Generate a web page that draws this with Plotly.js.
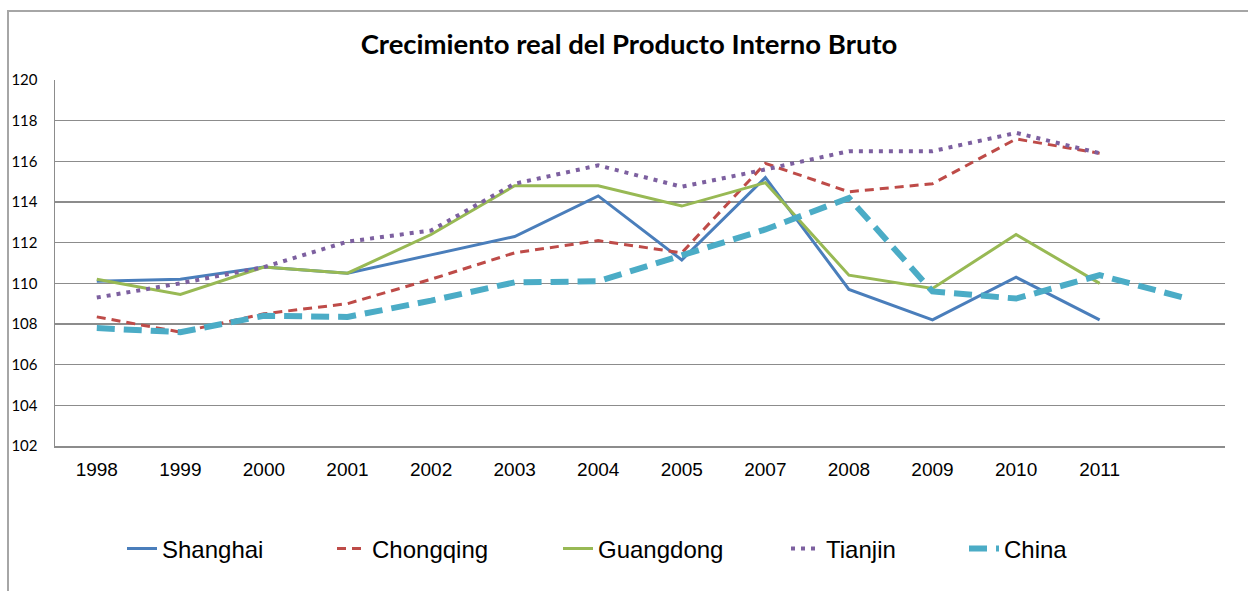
<!DOCTYPE html>
<html>
<head>
<meta charset="utf-8">
<script src="https://cdn.plot.ly/plotly-3.0.1.min.js"></script>
<style>
  html, body { margin: 0; padding: 0; background: #fff; }
  #wrap { position: relative; width: 1248px; height: 591px; }
  #chart { position: absolute; left: 0; top: 0; width: 1248px; height: 591px; }
  #frame { position: absolute; left: 7px; top: 10px; width: 1260px; height: 600px;
           border-left: 2px solid #a6a6a6; border-top: 2px solid #a6a6a6; pointer-events: none; }
</style>
</head>
<body>
<div id="wrap">
  <div id="chart"></div>
  <div id="frame"></div>
</div>
<script>
// Categories (last category is unlabeled in the source chart)
const categories = ['1998','1999','2000','2001','2002','2003','2004','2005','2007','2008','2009','2010','2011',''];

const shanghai  = [110.1, 110.2, 110.8, 110.5, 111.4, 112.3, 114.3, 111.15, 115.2, 109.7, 108.2, 110.3, 108.2, null];
const chongqing = [108.35, 107.6, 108.5, 109.0, 110.2, 111.5, 112.1, 111.5, 115.9, 114.5, 114.9, 117.1, 116.4, null];
const guangdong = [110.2, 109.45, 110.8, 110.5, 112.4, 114.8, 114.8, 113.8, 114.95, 110.4, 109.75, 112.4, 110.0, null];
const tianjin   = [109.3, 110.0, 110.8, 112.05, 112.6, 114.9, 115.8, 114.75, 115.6, 116.5, 116.5, 117.4, 116.4, null];
const china     = [107.8, 107.6, 108.4, 108.35, 109.15, 110.05, 110.1, 111.4, 112.65, 114.2, 109.6, 109.25, 110.4, 109.3];

const yTicks = [102, 104, 106, 108, 110, 112, 114, 116, 118, 120];

const idx = categories.map((c, i) => i);
const W = 1248, H = 591;

function tr(name, data, color, width, dash, legendId) {
  return {
    type: 'scatter', mode: 'lines', name: name,
    x: idx, y: data,
    line: { color: color, width: width, dash: dash },
    connectgaps: false,
    legend: legendId
  };
}

const traces = [
  tr('Shanghai',  shanghai,  '#4A7EBB', 3, 'solid',      'legend'),
  tr('Chongqing', chongqing, '#BE4B48', 3, '9px,6px',    'legend2'),
  tr('Guangdong', guangdong, '#98B954', 3, 'solid',      'legend3'),
  tr('Tianjin',   tianjin,   '#7D60A0', 4, '4px,6px',    'legend4'),
  tr('China',     china,     '#4BACC6', 6, '18px,9px',   'legend5')
];

const legFont = { family: 'Liberation Sans, Arial, sans-serif', size: 24, color: '#000' };
function leg(px) {
  return {
    xref: 'container', yref: 'container',
    x: px / W, y: 1 - 549 / H, xanchor: 'left', yanchor: 'middle',
    orientation: 'h', font: legFont, bgcolor: 'rgba(0,0,0,0)', borderwidth: 0
  };
}

const layout = {
  width: W, height: H,
  paper_bgcolor: '#fff', plot_bgcolor: '#fff',
  margin: { l: 55, r: 23, t: 80, b: 145 },
  title: {
    text: '<b>Crecimiento real del Producto Interno Bruto</b>',
    font: { family: 'Lato, sans-serif', size: 27.5, color: '#000' },
    xref: 'container', yref: 'container',
    x: 629 / W, y: 1 - 44 / H, xanchor: 'center', yanchor: 'middle'
  },
  xaxis: {
    range: [-0.5, categories.length - 0.5],
    tickmode: 'array', tickvals: idx, ticktext: categories,
    showgrid: false, zeroline: false,
    showline: true, linecolor: '#8c8c8c', linewidth: 1.5,
    ticks: '', ticklabelstandoff: 6,
    tickfont: { family: 'Liberation Sans, Arial, sans-serif', size: 19, color: '#000' }
  },
  yaxis: {
    range: [102, 120],
    tickmode: 'array', tickvals: yTicks, ticktext: yTicks.map(String),
    showgrid: true, gridcolor: '#8c8c8c', gridwidth: 1.5,
    zeroline: false,
    showline: true, linecolor: '#8c8c8c', linewidth: 1.5,
    ticks: '', ticklabelstandoff: 13,
    tickfont: { family: 'Lato, sans-serif', size: 15, color: '#000' }
  },
  showlegend: true,
  legend: leg(122),
  legend2: leg(332),
  legend3: leg(558),
  legend4: leg(786),
  legend5: leg(964),
  hovermode: false
};

Plotly.newPlot('chart', traces, layout, { displayModeBar: false, staticPlot: true });
</script>
</body>
</html>
